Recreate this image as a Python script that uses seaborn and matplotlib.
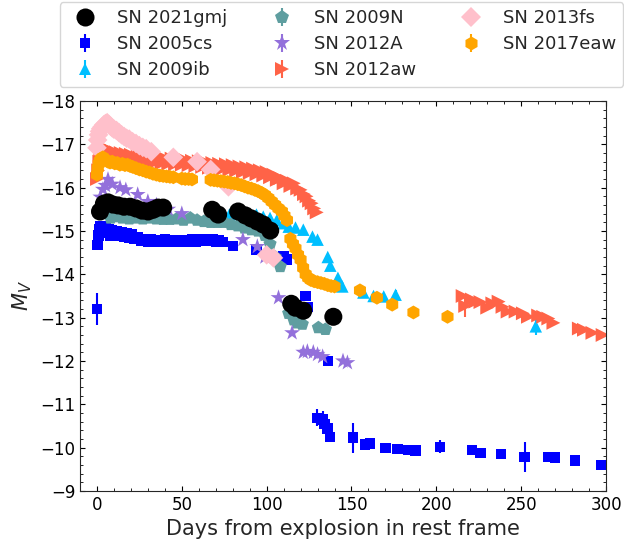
import numpy as np
import pandas as pd
import matplotlib
matplotlib.use("Agg")
import matplotlib.pyplot as plt
import seaborn as sns
from matplotlib.ticker import MultipleLocator

# ---- light-curve data: days since explosion (rest frame), absolute V mag, error ----
gmj_day = [1.8, 4.1, 6.5, 9.4, 12.4, 15.9, 19.5, 23.0, 26.6, 30.1, 33.1, 36.0, 39.0,
           67.9, 71.4, 83.2, 87.4, 90.9, 94.5, 98.0, 102.1, 114.5, 116.9, 121.6, 139.3]
gmj_mag = [-15.45, -15.63, -15.66, -15.61, -15.59, -15.56, -15.56, -15.52, -15.47, -15.45,
           -15.49, -15.54, -15.54, -15.49, -15.38, -15.45, -15.36, -15.29, -15.22, -15.15,
           -15.01, -13.32, -13.23, -13.16, -13.02]
gmj_err = [0.03] * 25

cs_day = [0.0, 0.3, 1.0, 1.5, 2.2, 3.0, 4.0, 5.0, 6.0, 7.0, 8.0, 9.0, 10.0, 11.5, 13.0,
          14.5, 16.0, 17.5, 19.0, 20.5, 22.0, 24.0, 26.0, 28.0, 30.0, 32.0, 34.0, 36.0,
          38.0, 40.0, 42.0, 44.0, 46.0, 48.0, 50.0, 52.0, 54.0, 56.0, 58.0, 60.0, 62.0,
          64.0, 66.0, 68.0, 70.0, 72.0, 74.0, 80.0, 94.0, 110.0, 112.0, 123.0, 124.0,
          129.9, 133.0, 134.0, 135.8, 136.0, 137.5, 151.0, 158.0, 161.0, 170.0, 177.0,
          183.6, 187.7, 202.0, 221.0, 226.0, 238.0, 252.0, 266.0, 270.0, 281.6, 297.0]
cs_mag = [-13.2, -14.68, -14.9, -15.05, -15.12, -15.1, -15.0, -15.08, -14.95, -15.05,
          -14.9, -15.02, -14.92, -15.0, -14.88, -14.97, -14.87, -14.95, -14.85, -14.92,
          -14.82, -14.85, -14.78, -14.82, -14.76, -14.8, -14.76, -14.79, -14.75, -14.8,
          -14.76, -14.79, -14.75, -14.78, -14.76, -14.79, -14.75, -14.8, -14.76, -14.8,
          -14.77, -14.82, -14.78, -14.8, -14.76, -14.79, -14.75, -14.65, -14.57, -14.42,
          -14.34, -13.5, -13.25, -10.69, -10.65, -10.55, -10.44, -12.0, -10.25, -10.23,
          -10.07, -10.1, -9.99, -9.97, -9.95, -9.93, -10.02, -9.95, -9.88, -9.86, -9.79,
          -9.79, -9.77, -9.70, -9.60]
cs_err = [0.37, 0.1] + [0.05] * 51 + [0.2, 0.2, 0.05, 0.05, 0.05, 0.05, 0.35, 0.05,
                                      0.1, 0.05, 0.05, 0.12, 0.12, 0.15, 0.05, 0.05,
                                      0.05, 0.35, 0.05, 0.05, 0.05, 0.05]

ib_day = [70, 78, 86, 94, 98, 102, 106, 110, 113, 117, 121.6, 127, 130, 136, 137.5,
          142, 144.6, 157, 163, 169, 176, 258.6]
ib_mag = [-15.35, -15.38, -15.4, -15.38, -15.33, -15.3, -15.25, -15.18, -15.1, -15.08,
          -15.03, -14.87, -14.8, -14.4, -14.2, -13.92, -13.72, -13.58, -13.5, -13.49,
          -13.53, -12.8]
ib_err = [0.05] * 20 + [0.12, 0.2]

n_day = [8, 11, 15, 19, 23, 27, 31, 35, 39, 43, 47, 51, 55, 59, 63, 67, 71, 75, 79, 83,
         87, 91, 95, 99, 102, 105, 108, 113, 116, 118, 121, 130.5, 134.6]
n_mag = [-15.3, -15.33, -15.3, -15.28, -15.3, -15.28, -15.3, -15.28, -15.27, -15.27,
         -15.28, -15.25, -15.3, -15.25, -15.22, -15.2, -15.2, -15.2, -15.15, -15.12,
         -15.07, -15.03, -15.0, -14.9, -14.7, -14.4, -14.18, -13.1, -12.95, -12.88,
         -12.85, -12.77, -12.73]
n_err = [0.05] * 33

a_day = [2, 3.5, 5, 6.5, 9, 13.6, 17, 24, 30, 35, 42, 50, 86, 94.5, 99, 107, 115,
         121.6, 124, 127.5, 130, 133, 145, 147.6]
a_mag = [-15.78, -15.96, -16.05, -16.19, -16.08, -16.0, -15.95, -15.84, -15.68, -15.6,
         -15.5, -15.4, -14.8, -14.64, -14.4, -13.46, -12.65, -12.2, -12.22, -12.2,
         -12.15, -12.1, -12.0, -11.96]
a_err = [0.05] * 24

aw_day = [0, 0.7, 1.4, 2, 2.8, 3.5, 4.5, 5.5, 6.5, 7.5, 8.5, 9.5, 11, 12.5, 14, 15.5,
          17, 18.5, 20, 22, 24, 26, 28, 30, 32, 34, 36, 38, 40, 42, 44, 46, 48, 50, 52,
          54, 56, 58, 60, 62, 64, 66, 68, 70, 72, 74, 76, 78, 80, 82, 84, 86, 88, 90,
          92, 94, 96, 98, 100, 102, 104, 106, 108, 110, 112, 114, 116, 118, 120, 122,
          123.5, 125, 126.5, 128, 129.5,
          215.5, 217, 221, 223, 226, 230, 233, 236.7, 239, 242, 246.7, 251, 254, 260,
          263, 266, 269, 284, 287, 292, 298]
aw_mag = [-16.2, -16.4, -16.6, -16.75, -16.9, -16.82, -16.93, -16.78, -16.88, -16.74,
          -16.85, -16.72, -16.82, -16.68, -16.8, -16.66, -16.78, -16.64, -16.76, -16.63,
          -16.74, -16.6, -16.72, -16.58, -16.71, -16.58, -16.7, -16.56, -16.68, -16.55,
          -16.67, -16.54, -16.65, -16.53, -16.64, -16.52, -16.62, -16.5, -16.61, -16.48,
          -16.59, -16.46, -16.57, -16.45, -16.55, -16.43, -16.54, -16.41, -16.52, -16.39,
          -16.49, -16.36, -16.47, -16.34, -16.44, -16.31, -16.4, -16.28, -16.36, -16.24,
          -16.3, -16.18, -16.22, -16.1, -16.16, -16.04, -16.1, -15.98, -15.95, -15.85,
          -15.8, -15.7, -15.64, -15.52, -15.43,
          -13.5, -13.27, -13.42, -13.37, -13.36, -13.23, -13.33, -13.37, -13.25, -13.14,
          -13.14, -13.1, -13.02, -13.05, -13.02, -12.98, -12.88, -12.75, -12.72, -12.65,
          -12.6]
aw_err = [0.05] * 76 + [0.25] + [0.05] * 19

fs_day = [0, 0.4, 0.9, 1.5, 2.2, 3, 4, 5, 6, 7, 8, 9, 10, 11.5, 13, 14.5, 16, 17.5, 19,
          21, 23, 25, 27, 29, 32, 45, 59, 67, 77.5, 100, 104]
fs_mag = [-16.92, -17.1, -17.22, -17.3, -17.36, -17.4, -17.45, -17.48, -17.5, -17.46,
          -17.42, -17.38, -17.35, -17.32, -17.27, -17.22, -17.18, -17.14, -17.12, -17.06,
          -17.02, -16.97, -16.93, -16.9, -16.83, -16.7, -16.6, -16.42, -16.02, -14.45,
          -14.38]
fs_err = [0.05] * 31

eaw_day = [0, 0.5, 1, 1.7, 2.5, 3.5, 4.5, 5.5, 6.5, 7.7, 9, 10.5, 12, 13.5, 15, 16.5,
           18, 19.5, 21, 23, 25, 27, 29, 31, 33, 35, 37, 39, 41, 43, 45, 50, 52, 54, 56,
           67, 69, 71, 73, 75, 77, 79, 81, 83, 85, 87, 89, 91, 93, 95, 97, 99, 101, 103,
           105, 107, 109, 110.5, 112, 114, 115.5, 117, 118.5, 120, 121.5, 123, 124.5,
           126, 128, 130, 132, 134, 136, 138, 140, 155, 165, 174, 186.5, 206.6]
eaw_mag = [-16.3, -16.45, -16.55, -16.62, -16.67, -16.7, -16.66, -16.63, -16.6, -16.58,
           -16.6, -16.56, -16.57, -16.53, -16.55, -16.52, -16.53, -16.5, -16.48, -16.45,
           -16.42, -16.4, -16.37, -16.35, -16.32, -16.3, -16.28, -16.27, -16.26, -16.25,
           -16.24, -16.21, -16.2, -16.2, -16.19, -16.18, -16.17, -16.16, -16.15, -16.14,
           -16.13, -16.11, -16.1, -16.08, -16.06, -16.03, -16.0, -15.98, -15.95, -15.92,
           -15.88, -15.83, -15.76, -15.68, -15.6, -15.52, -15.45, -15.35, -15.25, -14.82,
           -14.7, -14.6, -14.45, -14.34, -14.15, -14.0, -13.92, -13.87, -13.84, -13.82,
           -13.8, -13.78, -13.75, -13.73, -13.72, -13.63, -13.46, -13.3, -13.12, -13.02]
eaw_err = [0.05] * 80

# name, days, mags, errors, colour, marker, marker size (pt)
series = [
    ("SN 2005cs", cs_day, cs_mag, cs_err, "blue", "s", 7.5),
    ("SN 2009ib", ib_day, ib_mag, ib_err, "deepskyblue", "^", 9),
    ("SN 2009N", n_day, n_mag, n_err, "cadetblue", "p", 10),
    ("SN 2012A", a_day, a_mag, a_err, "mediumpurple", "*", 12),
    ("SN 2012aw", aw_day, aw_mag, aw_err, "tomato", ">", 10),
    ("SN 2013fs", fs_day, fs_mag, fs_err, "pink", "D", 10),
    ("SN 2017eaw", eaw_day, eaw_mag, eaw_err, "orange", "h", 10),
    ("SN 2021gmj", gmj_day, gmj_mag, gmj_err, "black", "o", 13),
]
legend_order = ["SN 2021gmj", "SN 2005cs", "SN 2009ib", "SN 2009N", "SN 2012A",
                "SN 2012aw", "SN 2013fs", "SN 2017eaw"]

df = pd.concat(
    [pd.DataFrame({"day": d, "mag": m, "err": e, "sn": name})
     for name, d, m, e, *_ in series],
    ignore_index=True,
)
palette = {s[0]: s[4] for s in series}
markers = {s[0]: s[5] for s in series}
sizes = {s[0]: s[6] ** 2 for s in series}

sns.set_style("ticks")
plt.rcParams["font.family"] = ["DejaVu Sans"]

fig = plt.figure(figsize=(6.24, 5.51), dpi=100)
ax = fig.add_axes([80 / 624, 1 - 491 / 551, 526 / 624, 390 / 551])

for name, d, m, e, col, mk, ms in series:
    if name == "SN 2021gmj":
        continue
    ax.errorbar(d, m, yerr=e, fmt="none", ecolor=col, elinewidth=1.5, zorder=1.5)

sns.scatterplot(data=df, x="day", y="mag", hue="sn", style="sn", size="sn",
                palette=palette, markers=markers, sizes=sizes, linewidth=0,
                edgecolor="none", legend=False, ax=ax, zorder=2)

# legend entries in the errorbar style
handles = []
for name in legend_order:
    _, _, _, _, col, mk, ms = next(s for s in series if s[0] == name)
    if name == "SN 2021gmj":
        h = ax.errorbar([np.nan], [np.nan], fmt=mk, color=col, ms=ms, mew=0, label=name)
    else:
        h = ax.errorbar([np.nan], [np.nan], yerr=[0.1], fmt=mk, color=col, ms=ms,
                        mew=0, elinewidth=1.5, label=name)
    handles.append(h)
fig.legend(handles, legend_order, ncol=3, loc="upper center",
           bbox_to_anchor=(341.5 / 624, 1 - 2 / 551), borderaxespad=0,
           fontsize=13, labelspacing=0.45)

ax.set_xlim(-10, 300)
ax.set_ylim(-9, -18)
ax.xaxis.set_major_locator(MultipleLocator(50))
ax.xaxis.set_minor_locator(MultipleLocator(10))
ax.yaxis.set_major_locator(MultipleLocator(1))
ax.yaxis.set_minor_locator(MultipleLocator(0.2))
ax.tick_params(which="both", direction="in", top=True, right=True, labelsize=12,
               colors="black")
ax.set_xlabel("Days from explosion in rest frame", fontsize=15)
ax.set_ylabel(r"$M_V$", fontsize=15)

fig.savefig("out.png", dpi=100)
